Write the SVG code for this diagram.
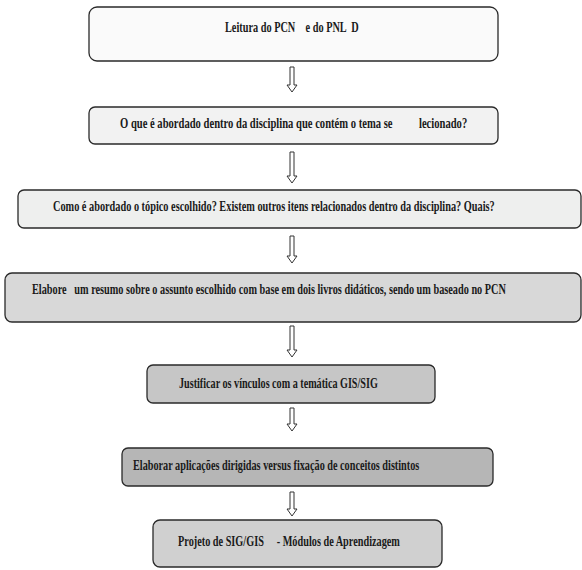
<svg xmlns="http://www.w3.org/2000/svg" width="582" height="570" viewBox="0 0 582 570">
<style>
.box{stroke:#2a2a2a;stroke-width:1.3}
.t{font-family:"Liberation Serif","Times New Roman",serif;font-weight:bold;font-size:15px;fill:#1a1a1a}
.arr{fill:#fff;stroke:#333;stroke-width:1}
</style>
<rect width="582" height="570" fill="#fff"/>
<g id="n1"><rect class="box" x="89" y="7" width="409" height="54" rx="8" fill="#fafafa"/><text class="t" transform="translate(225,32) scale(0.7,1)" textLength="191" lengthAdjust="spacingAndGlyphs" xml:space="preserve">Leitura do PCN    e do PNL  D</text></g>
<g id="n2"><rect class="box" x="89" y="107" width="409" height="37" rx="6" fill="#f2f2f2"/><text class="t" transform="translate(120,128) scale(0.7,1)" textLength="496" lengthAdjust="spacingAndGlyphs" xml:space="preserve">O que é abordado dentro da disciplina que contém o tema se          lecionado?</text></g>
<g id="n3"><rect class="box" x="18" y="190" width="563" height="38" rx="6" fill="#eeefee"/><text class="t" transform="translate(53,211) scale(0.7,1)" textLength="631" lengthAdjust="spacingAndGlyphs">Como é abordado o tópico escolhido? Existem outros itens relacionados dentro da disciplina? Quais?</text></g>
<g id="n4"><rect class="box" x="5" y="273" width="576" height="49" rx="7" fill="#d8d8d8"/><text class="t" transform="translate(32,294) scale(0.7,1)" textLength="677" lengthAdjust="spacingAndGlyphs" xml:space="preserve">Elabore   um resumo sobre o assunto escolhido com base em dois livros didáticos, sendo um baseado no PCN</text></g>
<g id="n5"><rect class="box" x="147" y="365" width="288" height="38" rx="6" fill="#c6c6c6"/><text class="t" transform="translate(179,388) scale(0.7,1)" textLength="284" lengthAdjust="spacingAndGlyphs">Justificar os vínculos com a temática GIS/SIG</text></g>
<g id="n6"><rect class="box" x="122" y="448" width="371" height="38" rx="6" fill="#b6b6b6"/><text class="t" transform="translate(133,470) scale(0.7,1)" textLength="409" lengthAdjust="spacingAndGlyphs">Elaborar aplicações dirigidas versus fixação de conceitos distintos</text></g>
<g id="n7"><rect class="box" x="153" y="520" width="289" height="47" rx="7" fill="#d0d0d0"/><text class="t" transform="translate(178,546) scale(0.7,1)" textLength="317" lengthAdjust="spacingAndGlyphs" xml:space="preserve">Projeto de SIG/GIS     - Módulos de Aprendizagem</text></g>
<g id="connectors">
<path class="arr" d="M290,67 h4 v18 h3 l-5,7 l-5,-7 h3 z"/>
<path class="arr" d="M290,152 h4 v24 h3 l-5,7 l-5,-7 h3 z"/>
<path class="arr" d="M290,236 h4 v20 h3 l-5,7 l-5,-7 h3 z"/>
<path class="arr" d="M290,326 h4 v24 h3 l-5,7 l-5,-7 h3 z"/>
<path class="arr" d="M290,408 h4 v16 h3 l-5,7 l-5,-7 h3 z"/>
<path class="arr" d="M290,492 h4 v17 h3 l-5,7 l-5,-7 h3 z"/>
</g>
</svg>
